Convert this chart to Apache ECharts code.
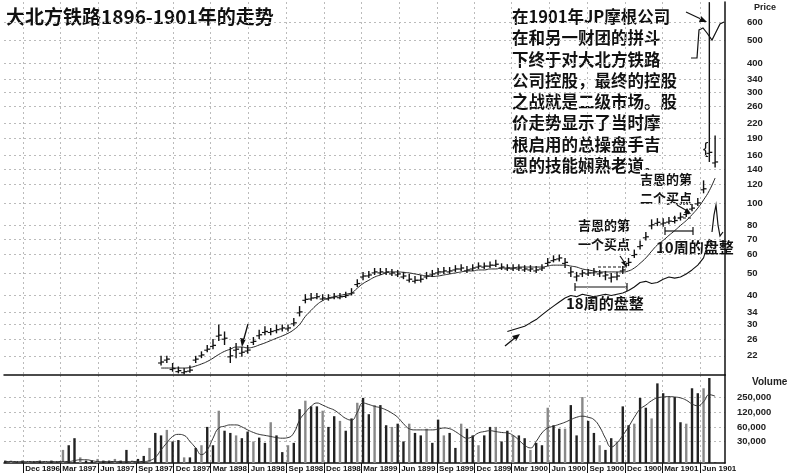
<!DOCTYPE html>
<html><head><meta charset="utf-8">
<script src="https://cdn.jsdelivr.net/npm/echarts@6/dist/echarts.min.js"></script>
<style>html,body{margin:0;padding:0;background:#fff}#c{width:800px;height:474px}</style>
</head><body><div id="c"></div>
<script>
// biweekly dates from 1896-10-19 (124 points); price starts at index 27
const startDate = '1896-10-19';
const nPoints = 124;
const priceStart = 27;
const closes = [20.7,21.3,19.4,19.0,18.8,19.1,21.3,22.2,23.5,24.4,
27,26.2,22,23.5,22.8,23.3,25.4,27.1,28,28,
28.5,29,29,30.5,34,38.5,39,39.5,39,39,
39.5,39.5,40,41,45,48.5,49,50.5,50.5,50.5,
50,49.5,48.5,47,46.5,47,48.5,49.5,50.5,51,
51,52,52.5,51.5,52.5,53.5,53.5,54,54.5,53,
52.5,52.5,52.5,52,52,51.5,52.5,55.5,57,58,
55.5,50.5,48.5,50,50,50.5,50,49,48,48.5,
51.5,55.5,60,65.5,71.5,80.5,82.5,82,83.5,84,
87,90,95,100,115,165,150];
const highs = [22,22,20.5,19.8,19.5,20,22,23,24.5,26,
30,28,24,25,24,24.5,26.5,28.5,29.5,29,
30,30,30,32,36,40.5,41,41,40.5,40.5,
41,41,41.5,43,47,50.5,51,52.5,52.5,52.5,
52,51.5,50.5,49.5,48.5,49,50.5,51.5,52.5,53,
53,54,54.5,53.5,54.5,55.5,55.5,56,57,55,
54.5,54.5,54.5,54,54,53.5,54.5,58,59.5,60,
58,53,50.5,51.5,52,52.5,51.5,51,50,50.5,
53.5,58,63,69,75,85,86,86,87,88,
91,94,99,105,125,730,195];
const lows = [20,20.5,18.8,18.5,18.3,18.6,20.5,21.5,22.8,23.5,
25.5,24.5,20.5,21.5,21.8,22.5,24.5,26,27,27,
27.5,28,28,29.5,32.5,37,38,38.5,38,38,
38.5,38.5,39,40,43.5,46.5,47.5,49,49,49,
48.5,48,47,45.5,45,45.5,47,48,49,49.5,
49.5,50.5,51,50,51,52,52,52.5,53,51.5,
51,51,51,50.5,50.5,50,51,53.5,55.5,56,
52.5,48,46,48,48.5,48.5,48,46.5,45.5,46.5,
49.5,53.5,58,63,69,77,79.5,79,81,81.5,
84,87,92,97,110,150,142];
const priceMA = [19.5,19.5,19.5,19.5,19.5,19.6,19.9,20.3,20.8,21.5,
22.3,23,23.5,24,24,23.8,24,24.5,25,25.6,
26.2,26.8,27.5,28.5,30,32.5,34.5,36.5,38,39,
39.5,40,40.5,41,43,45,46.5,48,49,50,
50.5,50.5,50.3,50,49.5,49,48.5,48.3,48.5,49,
49.5,50,50.5,51,51,51.5,51.5,52,52,52.5,
52.5,52.5,53,53,53,53,53,53.5,54,54,
54,53.5,53,52,51.5,51,50.5,50.5,50.5,50.5,
50.5,51,52.5,55,58,62,66,69,72.5,76,
80,84,89,95,103,113,128];
// relative strength line, starts at price index 60
const rsStart = 60;
const rsLine = [28,28.5,29,29.5,30.5,31.5,33,34.5,36,37.5,
39,40,39.5,40.5,40,39.5,40,40.5,40,40.5,
41,42,43.5,45.5,46,45,45.5,47,48,47.5,
48,49.5,51.5,54,58,70];
const volume = [12e3,12e3,11e3,12e3,11e3,11e3,12e3,11e3,12e3,11e3,
20e3,25e3,35e3,14e3,12e3,12e3,13e3,12e3,12e3,13e3,
12e3,20e3,12e3,13e3,15e3,22e3,45e3,40e3,52e3,30e3,
32e3,14e3,14e3,22e3,25e3,60e3,25e3,130e3,50e3,45e3,
40e3,35e3,48e3,30e3,36e3,28e3,75e3,40e3,18e3,25e3,
28e3,140e3,210e3,160e3,160e3,130e3,60e3,100e3,80e3,50e3,
90e3,190e3,240e3,110e3,170e3,170e3,65e3,60e3,70e3,30e3,
70e3,45e3,40e3,55e3,28e3,85e3,40e3,45e3,22e3,70e3,
55e3,40e3,25e3,40e3,60e3,60e3,30e3,50e3,40e3,40e3,
35e3,20e3,28e3,25e3,150e3,65e3,55e3,55e3,170e3,40e3,
250e3,80e3,45e3,25e3,20e3,35e3,30e3,160e3,65e3,70e3,
240e3,150e3,90e3,480e3,300e3,260e3,250e3,75e3,70e3,380e3,
300e3,380e3,620e3,11e3];
const volumeMA = [11.5e3,11.5e3,11.5e3,11.5e3,11.5e3,11.5e3,11.5e3,11.5e3,11.5e3,11.5e3,
11.5e3,11.5e3,12e3,12.5e3,12.5e3,12e3,11.5e3,11.5e3,11.5e3,11.5e3,
11.5e3,11.5e3,11.5e3,11.5e3,11.5e3,12e3,14e3,20e3,28e3,38e3,
42e3,40e3,30e3,22e3,16e3,20e3,35e3,57e3,62e3,66e3,
66e3,60e3,52e3,46e3,42e3,40e3,38e3,36e3,35e3,36e3,
45e3,83e3,120e3,160e3,188e3,170e3,150e3,134e3,110e3,90e3,
83e3,120e3,188e3,175e3,160e3,150e3,135e3,116e3,95e3,70e3,
55e3,52e3,52e3,52e3,52e3,54e3,57e3,55e3,48e3,40e3,
35e3,38e3,45e3,48e3,50e3,48e3,46e3,45e3,40e3,32e3,
25e3,22e3,30e3,45e3,57e3,62e3,68e3,75e3,85e3,95e3,
100e3,95e3,85e3,60e3,35e3,23e3,28e3,40e3,60e3,95e3,
140e3,170e3,210e3,240e3,250e3,255e3,250e3,240e3,215e3,180e3,
165e3,200e3,280e3,260e3];
const priceTicks = [22,26,30,34,40,50,60,70,80,100,120,140,160,190,220,260,300,340,400,500,600];
const volumeTicks = [30000,60000,120000,250000];
const quarterTicks = ['1896-12-01','1897-03-01','1897-06-01','1897-09-01','1897-12-01','1898-03-01','1898-06-01','1898-09-01','1898-12-01','1899-03-01','1899-06-01','1899-09-01','1899-12-01','1900-03-01','1900-06-01','1900-09-01','1900-12-01','1901-03-01','1901-06-01'];
const monthNames = ['Jan','Feb','Mar','Apr','May','Jun','Jul','Aug','Sep','Oct','Nov','Dec'];

const t0 = new Date(startDate + 'T00:00:00Z').getTime();
const dates = [];
for (let j = 0; j < nPoints; j++) dates.push(t0 + j * 14 * 86400000);
const qTimes = quarterTicks.map(d => new Date(d + 'T00:00:00Z').getTime());

const ohlc = closes.map((c, i) => [dates[priceStart + i], highs[i], lows[i], c]);
const maData = priceMA.map((v, i) => [dates[priceStart + i], v]);
const rsData = rsLine.map((v, i) => [dates[priceStart + rsStart + i], v]);
const volData = volume.map((v, j) => [dates[j], v]);
const volMAData = volumeMA.map((v, j) => [dates[j], v]);

const chart = echarts.init(document.getElementById('c'), null, {renderer: 'canvas'});
const xMin = new Date('1896-10-16T00:00:00Z').getTime();
const xMax = new Date('1901-08-01T00:00:00Z').getTime();
const FONT = '"Liberation Sans", Arial, sans-serif';
const CJK = '"Noto Sans CJK SC", sans-serif';
function xAxisBase(gi, show) {
  return {type: 'value', gridIndex: gi, min: xMin, max: xMax, scale: true,
    axisLine: {show: true, onZero: false, lineStyle: {color: '#111', width: 1.5}},
    axisTick: {show: show, customValues: qTimes, length: 10, inside: false, lineStyle: {color: '#111'}},
    axisLabel: {show: show, customValues: qTimes, align: 'left', margin: 2, fontSize: 8, fontWeight: 'bold', color: '#111', fontFamily: FONT,
      hideOverlap: false, showMinLabel: true, showMaxLabel: true,
      formatter: v => { const d = new Date(v); return ' ' + monthNames[d.getUTCMonth()] + ' ' + d.getUTCFullYear(); }},
    splitLine: {show: true, lineStyle: {type: [2, 3], color: '#bbb'}}
  };
}
const option = {
  animation: false,
  backgroundColor: '#fff',
  grid: [{left: 4, right: 75, top: 2, height: 373}, {left: 4, right: 75, top: 375, bottom: 11}],
  xAxis: [xAxisBase(0, false), xAxisBase(1, true)],
  yAxis: [
    {type: 'log', gridIndex: 0, position: 'right', min: 18.2, max: 731,
     axisLine: {show: true, lineStyle: {color: '#111', width: 1.5}}, axisTick: {show: false, customValues: priceTicks},
     axisLabel: {customValues: priceTicks, fontSize: 9.5, fontWeight: 'bold', color: '#222', margin: 22, fontFamily: FONT},
     splitLine: {show: true, lineStyle: {type: [2, 3], color: '#bbb'}}},
    {type: 'log', gridIndex: 1, position: 'right', min: 10700, max: 716000,
     axisLine: {show: true, lineStyle: {color: '#111', width: 1.5}}, axisTick: {show: false, customValues: volumeTicks},
     axisLabel: {customValues: volumeTicks, fontSize: 9.5, fontWeight: 'bold', color: '#222', margin: 12, fontFamily: FONT,
       formatter: v => Math.round(v).toLocaleString('en-US')},
     splitLine: {show: true, lineStyle: {type: [2, 3], color: '#bbb'}}}
  ],
  series: [
    {type: 'custom', xAxisIndex: 0, yAxisIndex: 0, data: ohlc, clip: true,
     encode: {x: 0, y: [1, 2, 3]},
     renderItem: (params, api) => {
       const x = api.value(0);
       const h = api.coord([x, api.value(1)]);
       const l = api.coord([x, api.value(2)]);
       const c = api.coord([x, api.value(3)]);
       return {type: 'group', children: [
         {type: 'line', shape: {x1: h[0], y1: h[1], x2: l[0], y2: l[1]}, style: {stroke: '#111', lineWidth: 1.4}},
         {type: 'line', shape: {x1: c[0], y1: c[1], x2: c[0] + 3, y2: c[1]}, style: {stroke: '#111', lineWidth: 1.3}},
         {type: 'line', shape: {x1: c[0] - 3, y1: c[1] + 1, x2: c[0], y2: c[1] + 1}, style: {stroke: '#111', lineWidth: 1.1}}
       ]};
     }},
    {type: 'line', xAxisIndex: 0, yAxisIndex: 0, data: maData, smooth: true, symbol: 'none', lineStyle: {color: '#222', width: 1}},
    {type: 'line', xAxisIndex: 0, yAxisIndex: 0, data: rsData, symbol: 'none', lineStyle: {color: '#111', width: 1.1}},
    {type: 'bar', xAxisIndex: 1, yAxisIndex: 1, data: volData, barWidth: 2.4,
     itemStyle: {color: (p) => (p.dataIndex % 3 === 1 ? '#888' : '#222')}},
    {type: 'line', xAxisIndex: 1, yAxisIndex: 1, data: volMAData, smooth: true, symbol: 'none', lineStyle: {color: '#333', width: 1}}
  ],
  graphic: [
    {type: 'text', left: 6, top: 7, style: {text: '大北方铁路1896-1901年的走势', font: 'bold 19px ' + CJK, fill: '#111'}},
    {type: 'text', left: 754, top: 3, style: {text: 'Price', font: 'bold 9px ' + FONT, fill: '#222'}},
    {type: 'text', left: 752, top: 377, style: {text: 'Volume', font: 'bold 10px ' + FONT, fill: '#222'}},
    {type: 'rect', shape: {x: 505, y: 4, width: 185, height: 162}, style: {fill: '#fff'}},
    {type: 'text', left: 512, top: 6, style: {text: '在1901年JP摩根公司\n在和另一财团的拼斗\n下终于对大北方铁路\n公司控股，最终的控股\n之战就是二级市场。股\n价走势显示了当时摩\n根启用的总操盘手吉\n恩的技能娴熟老道。', font: 'bold 16.5px ' + CJK, lineHeight: 21.3, fill: '#111'}},
    {type: 'text', left: 640, top: 170, style: {text: '吉恩的第\n二个买点', font: 'bold 13px ' + CJK, lineHeight: 19, fill: '#111', backgroundColor: '#fff'}},
    {type: 'text', left: 578, top: 216, style: {text: '吉恩的第\n一个买点', font: 'bold 13px ' + CJK, lineHeight: 19, fill: '#111', backgroundColor: '#fff'}},
    {type: 'text', left: 656, top: 240, style: {text: '10周的盘整', font: 'bold 15px ' + CJK, fill: '#111', backgroundColor: '#fff'}},
    {type: 'text', left: 566, top: 296, style: {text: '18周的盘整', font: 'bold 15px ' + CJK, fill: '#111', backgroundColor: '#fff'}},
    {type: 'polyline', shape: {points: [[575, 283], [575, 291]]}, style: {stroke: '#111', lineWidth: 1.2}},
    {type: 'polyline', shape: {points: [[575, 287], [627, 287]]}, style: {stroke: '#111', lineWidth: 1.2}},
    {type: 'polyline', shape: {points: [[627, 283], [627, 291]]}, style: {stroke: '#111', lineWidth: 1.2}},
    {type: 'polyline', shape: {points: [[665, 227], [665, 235]]}, style: {stroke: '#111', lineWidth: 1.2}},
    {type: 'polyline', shape: {points: [[665, 231], [693, 231]]}, style: {stroke: '#111', lineWidth: 1.2}},
    {type: 'polyline', shape: {points: [[693, 227], [693, 235]]}, style: {stroke: '#111', lineWidth: 1.2}},
    {type: 'polyline', shape: {points: [[598, 267], [626, 267]]}, style: {stroke: '#111', lineWidth: 1.2, lineDash: [3, 2]}},
    {type: 'polyline', shape: {points: [[673, 218], [692, 218]]}, style: {stroke: '#111', lineWidth: 1.2, lineDash: [3, 2]}},
    {type: 'polyline', shape: {points: [[620, 256], [627, 266]]}, style: {stroke: '#111', lineWidth: 1.2}},
    {type: 'polygon', shape: {points: [[627, 268], [621, 262], [626, 261]]}, style: {fill: '#111'}},
    {type: 'polyline', shape: {points: [[677, 205], [689, 212]]}, style: {stroke: '#111', lineWidth: 1.2}},
    {type: 'polygon', shape: {points: [[691, 214], [684, 213], [687, 208]]}, style: {fill: '#111'}},
    {type: 'polyline', shape: {points: [[248, 324], [243, 342]]}, style: {stroke: '#111', lineWidth: 1.3}},
    {type: 'polygon', shape: {points: [[242, 347], [240, 338], [246, 339]]}, style: {fill: '#111'}},
    {type: 'polyline', shape: {points: [[505, 346], [516, 337]]}, style: {stroke: '#111', lineWidth: 1.3}},
    {type: 'polygon', shape: {points: [[520, 334], [512, 336], [516, 341]]}, style: {fill: '#111'}},
    {type: 'polyline', shape: {points: [[686, 12], [703, 20]]}, style: {stroke: '#111', lineWidth: 1.2}},
    {type: 'polygon', shape: {points: [[707, 22], [699, 22], [701, 16]]}, style: {fill: '#111'}},
    {type: 'polyline', shape: {points: [[691, 58], [697, 58], [699, 30], [703, 28], [707, 33], [712, 40], [716, 32], [720, 24], [724, 22]]}, style: {stroke: '#111', lineWidth: 1.2, fill: null}},
    {type: 'polyline', shape: {points: [[712, 232], [714, 215], [716, 205], [718, 225], [720, 236], [723, 232]]}, style: {stroke: '#111', lineWidth: 1.2, fill: null}},
    {type: 'text', left: 703, top: 142, style: {text: '{', font: '16px ' + FONT, fill: '#111'}}
  ]
};
chart.setOption(option);
</script></body></html>
